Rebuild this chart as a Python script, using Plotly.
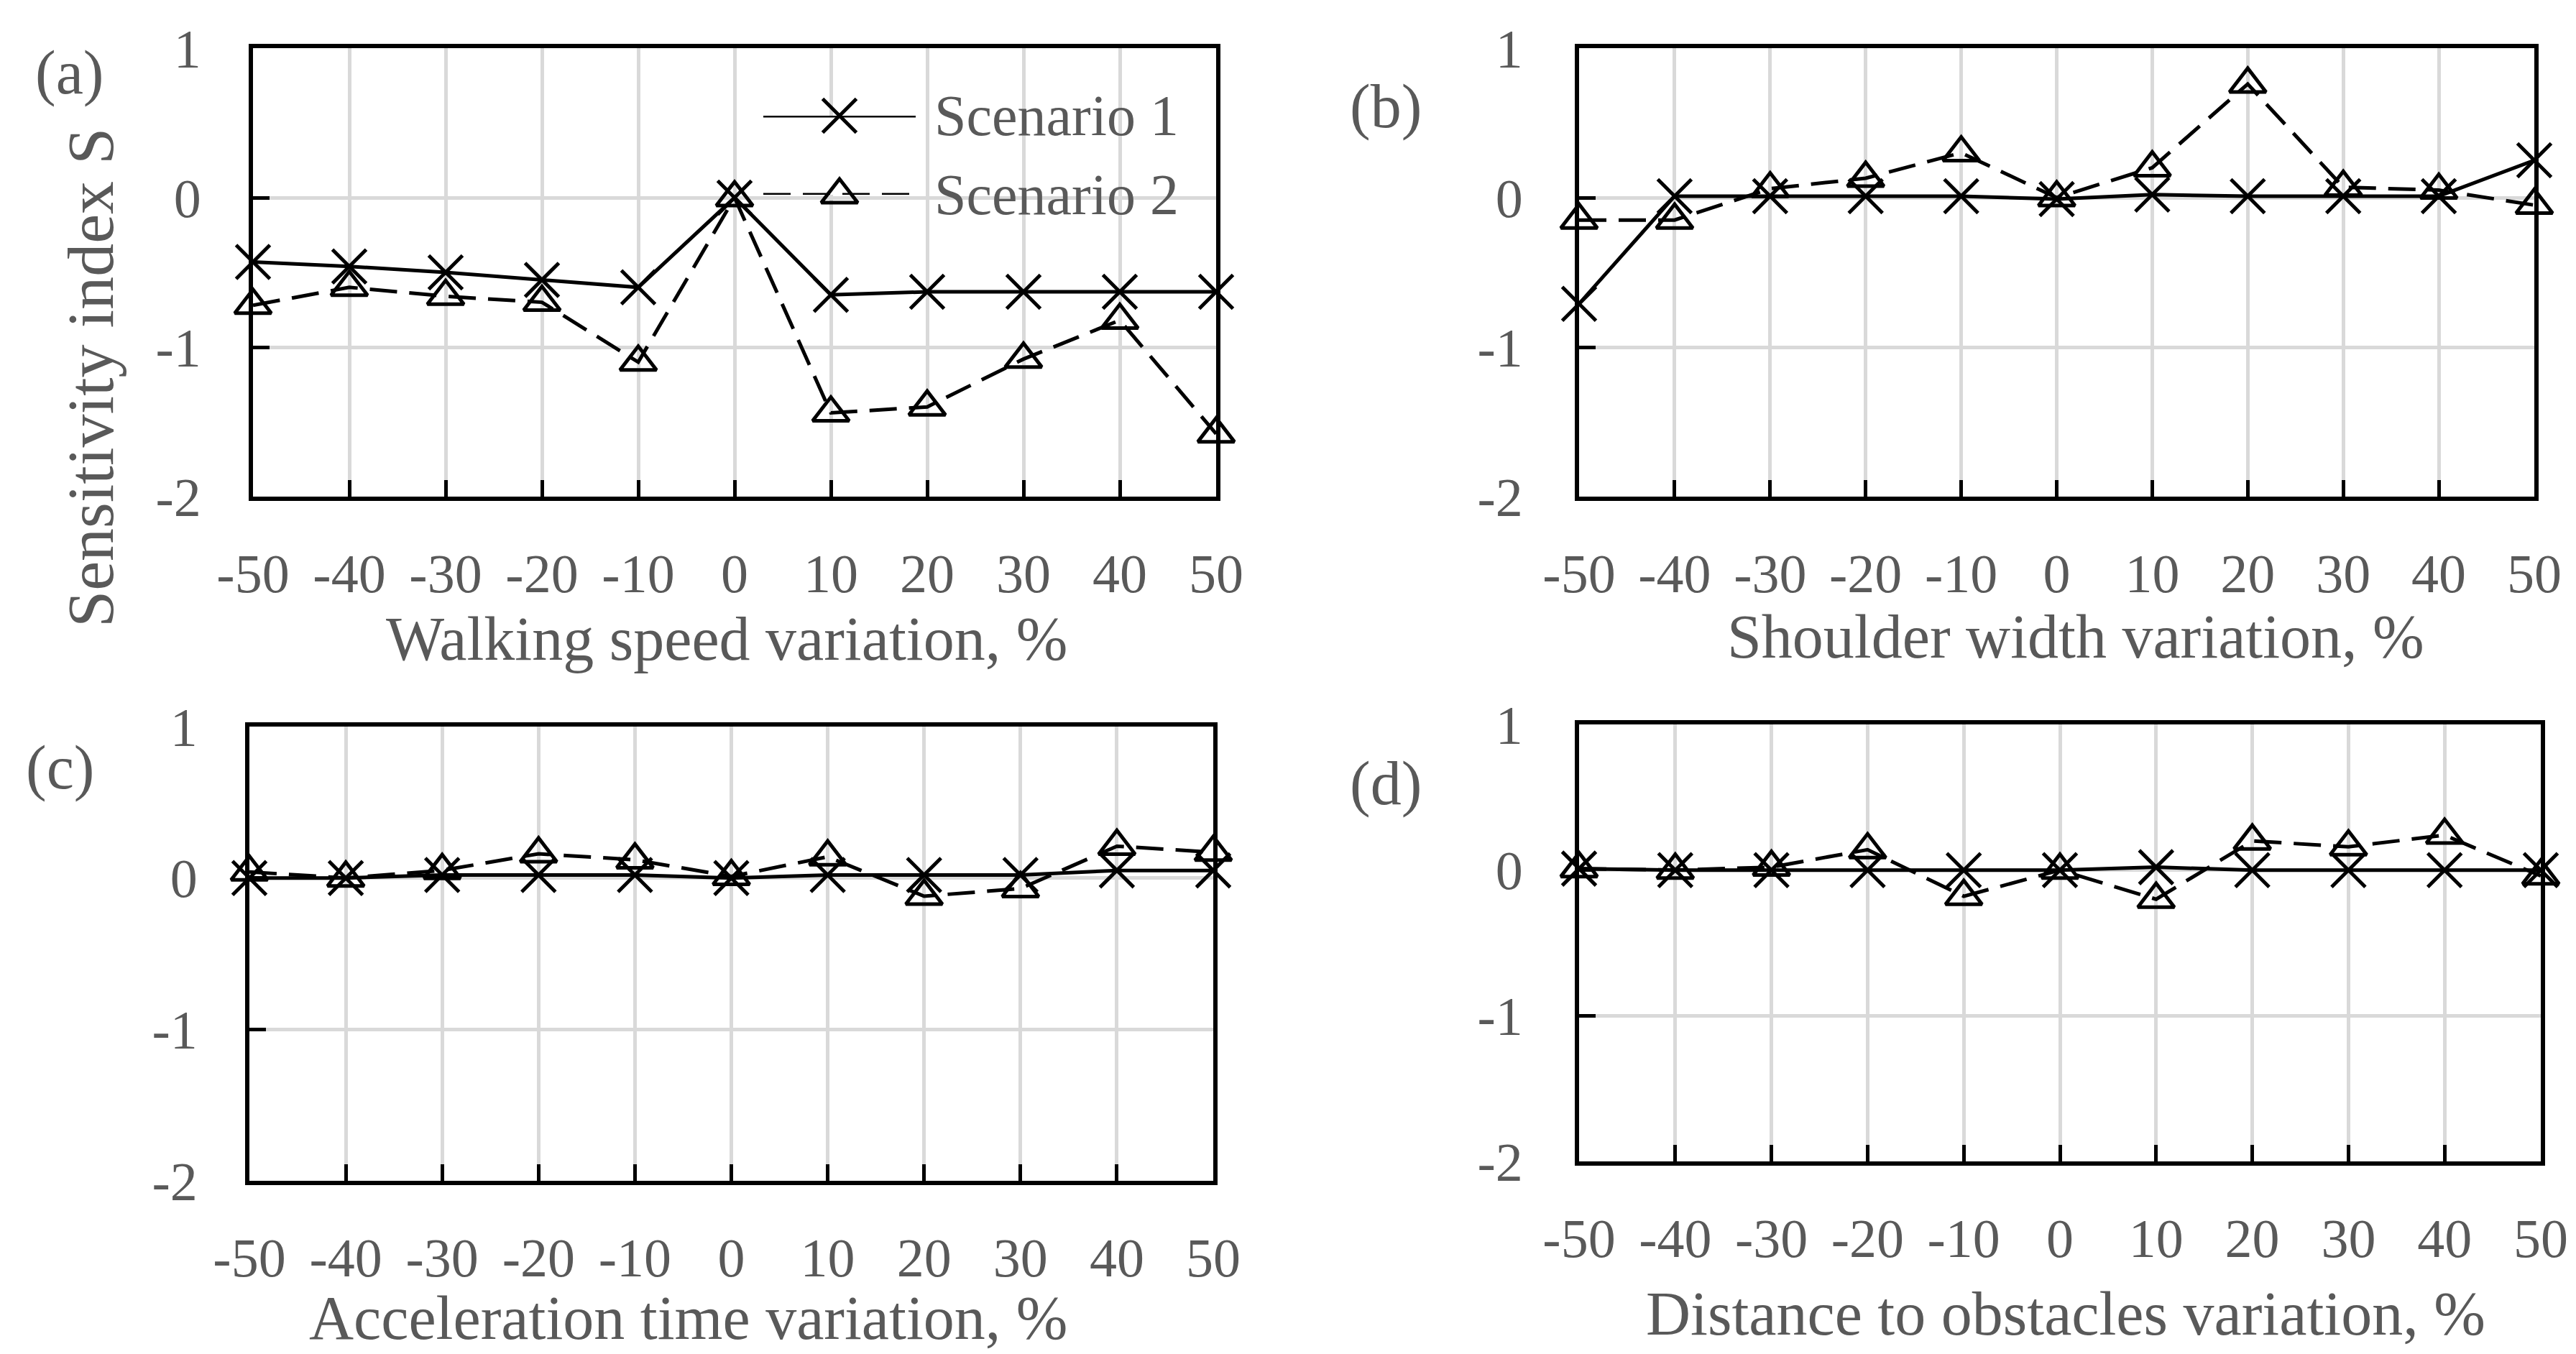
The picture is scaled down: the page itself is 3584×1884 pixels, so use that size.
import plotly.graph_objects as go

# percent variation of each input parameter
variation = [-50, -40, -30, -20, -10, 0, 10, 20, 30, 40, 50]

# sensitivity index S
walking_s1 = [-0.43, -0.46, -0.50, -0.55, -0.60, 0.0, -0.65, -0.63, -0.63, -0.63, -0.63]
walking_s2 = [-0.72, -0.60, -0.66, -0.70, -1.10, 0.0, -1.44, -1.40, -1.08, -0.82, -1.58]
shoulder_s1 = [-0.71, 0.01, 0.01, 0.01, 0.01, -0.01, 0.02, 0.01, 0.01, 0.01, 0.25]
shoulder_s2 = [-0.15, -0.15, 0.06, 0.13, 0.30, 0.0, 0.20, 0.76, 0.07, 0.05, -0.05]
accel_s1 = [0.0, 0.0, 0.02, 0.02, 0.02, 0.0, 0.02, 0.02, 0.02, 0.05, 0.05]
accel_s2 = [0.04, 0.0, 0.05, 0.16, 0.12, 0.01, 0.14, -0.12, -0.07, 0.21, 0.17]
distance_s1 = [0.01, 0.0, 0.0, 0.0, 0.0, 0.0, 0.02, 0.0, 0.0, 0.0, 0.0]
distance_s2 = [0.01, 0.0, 0.02, 0.14, -0.18, 0.0, -0.20, 0.20, 0.16, 0.24, -0.04]

y_ticks = [1, 0, -1, -2]
x_ticktext = ['-50', '-40', '-30', '-20', '-10', '0', '10', '20', '30', '40', '50']
y_ticktext = ['1', '0', '-1', '-2']
series_names = ['Scenario 1', 'Scenario 2']
panel_labels = ['(a)', '(b)', '(c)', '(d)']
x_titles = ['Walking speed variation, %', 'Shoulder width variation, %',
            'Acceleration time variation, %', 'Distance to obstacles variation, %']
y_title = 'Sensitivity index S'

panels = [(walking_s1, walking_s2), (shoulder_s1, shoulder_s2),
          (accel_s1, accel_s2), (distance_s1, distance_s2)]

W, H = 3584, 1884
FONT = 'Liberation Serif'
GREY = '#595959'
GRID = '#d9d9d9'
DASH = '38px,17px'


def px(x):
    return x / W


def py(y):
    return 1 - y / H


# plot boxes in pixels: left, right, top, bottom
boxes = [(344, 1684, 59, 683), (2189, 3518, 59, 683),
         (339, 1680, 1003, 1635), (2189, 3527, 1000, 1608)]
ylabel_pad = [51, 57, 51, 57]
label_pos = [(88, 93), (1920, 140), (75, 1060), (1920, 1082)]
title_pos = [(1003, 881), (2880, 878), (949, 1826), (2866, 1820)]

fig = go.Figure()

line1 = dict(color='black', width=5)
line2 = dict(color='black', width=5, dash=DASH)
mark1 = dict(symbol='x-thin-open', size=47, color='black', line=dict(color='black', width=5))
mark2 = dict(symbol='triangle-up-open', size=44, color='black', line=dict(color='black', width=5))

annotations = []
for i, (s1, s2) in enumerate(panels, start=1):
    xa, ya = 'x%d' % i, 'y%d' % i
    fig.add_trace(go.Scatter(x=variation, y=s1, mode='lines+markers', name=series_names[0],
                             line=line1, marker=mark1, xaxis=xa, yaxis=ya,
                             cliponaxis=False, showlegend=False))
    fig.add_trace(go.Scatter(x=variation, y=s2, mode='lines+markers', name=series_names[1],
                             line=line2, marker=mark2, xaxis=xa, yaxis=ya,
                             cliponaxis=False, showlegend=False))

    left, right, top, bottom = boxes[i - 1]
    common = dict(ticks='inside', ticklen=23, tickwidth=5, tickcolor='black',
                  showgrid=True, gridcolor=GRID, gridwidth=5,
                  showline=True, linecolor='black', linewidth=6, mirror=True,
                  zeroline=False, automargin=False,
                  tickfont=dict(family=FONT, size=76, color=GREY))
    fig.layout['xaxis%d' % i] = dict(domain=[px(left), px(right)], anchor=ya,
                                     range=[-50, 50], tickvals=variation, ticktext=x_ticktext,
                                     ticklabelstandoff=36, **common)
    fig.layout['yaxis%d' % i] = dict(domain=[py(bottom), py(top)], anchor=xa,
                                     range=[-2, 1], tickvals=y_ticks, ticktext=y_ticktext,
                                     ticklabelstandoff=ylabel_pad[i - 1], **common)

    lx, ly = label_pos[i - 1]
    annotations.append(dict(text=panel_labels[i - 1], x=px(lx), y=py(ly), xref='paper', yref='paper',
                            showarrow=False, xanchor='center', yanchor='middle',
                            font=dict(family=FONT, size=86, color=GREY)))
    tx, ty = title_pos[i - 1]
    annotations.append(dict(text=x_titles[i - 1], x=px(tx), y=py(ty), xref='paper', yref='paper',
                            showarrow=False, xanchor='center', yanchor='middle',
                            font=dict(family=FONT, size=86, color=GREY)))

annotations.append(dict(text=y_title, x=px(118), y=py(518), xref='paper', yref='paper',
                        showarrow=False, textangle=-90, xanchor='center', yanchor='middle',
                        font=dict(family=FONT, size=92, color=GREY)))

# legend drawn in its own small axis inside panel (a)
fig.add_trace(go.Scatter(x=[0, 1], y=[1, 1], mode='lines', line=line1,
                         xaxis='x5', yaxis='y5', showlegend=False, hoverinfo='skip'))
fig.add_trace(go.Scatter(x=[0.5], y=[1], mode='markers', marker=mark1, cliponaxis=False,
                         xaxis='x5', yaxis='y5', showlegend=False, hoverinfo='skip'))
fig.add_trace(go.Scatter(x=[0, 1], y=[0, 0], mode='lines', line=line2,
                         xaxis='x5', yaxis='y5', showlegend=False, hoverinfo='skip'))
fig.add_trace(go.Scatter(x=[0.5], y=[0], mode='markers', marker=mark2, cliponaxis=False,
                         xaxis='x5', yaxis='y5', showlegend=False, hoverinfo='skip'))
hidden = dict(visible=False, fixedrange=True, automargin=False)
fig.layout['xaxis5'] = dict(domain=[px(1054), px(1266)], range=[0, 1], anchor='y5', **hidden)
fig.layout['yaxis5'] = dict(domain=[py(263), py(153)], range=[0, 1], anchor='x5', **hidden)
for row, name in zip([153, 263], series_names):
    annotations.append(dict(text=name, x=px(1290), y=py(row), xref='paper', yref='paper',
                            showarrow=False, xanchor='left', yanchor='middle',
                            font=dict(family=FONT, size=80, color=GREY)))

fig.update_layout(template='none', width=W, height=H, autosize=False,
                  margin=dict(l=0, r=0, t=0, b=0, pad=0),
                  paper_bgcolor='white', plot_bgcolor='white',
                  annotations=annotations, showlegend=False)

fig.write_html("out.html")
